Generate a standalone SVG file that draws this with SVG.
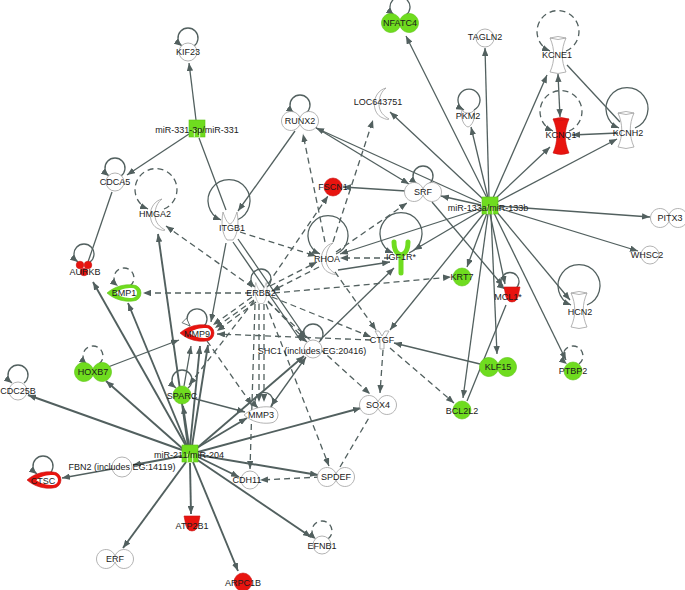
<svg xmlns="http://www.w3.org/2000/svg" xmlns:xlink="http://www.w3.org/1999/xlink" width="685" height="590" viewBox="0 0 685 590">
<style>
text{font-family:"Liberation Sans",Arial,sans-serif;font-size:9px;fill:#1a1a1a;text-anchor:middle;dominant-baseline:central}
.e{stroke:#52605f;stroke-width:1.3;fill:none}
.t{stroke-width:1.9}
.d{stroke-dasharray:6 4}
.w{fill:#fff;stroke:#a0a0a0;stroke-width:0.8}
.g{fill:#6fdc1f;stroke:#5cc414;stroke-width:0.6}
.r{fill:#e8140f;stroke:#c81010;stroke-width:0.6}
.wi{fill:#fff;stroke:none}
</style>
<defs>
<marker id="a" viewBox="0 0 10 8" refX="10" refY="4" markerWidth="8" markerHeight="6.4" orient="auto-start-reverse" markerUnits="userSpaceOnUse"><path d="M0,0 L10,4 L0,8 z" fill="#52605f"/></marker>
<marker id="ao" viewBox="0 0 12 10" refX="11" refY="5" markerWidth="10" markerHeight="8" orient="auto" markerUnits="userSpaceOnUse"><path d="M1,1 L11,5 L1,9 z" fill="#fff" stroke="#52605f" stroke-width="1"/></marker>
<path id="tf" d="M0,-3 A9.5,9.5 0 1,1 0,3 A9.5,9.5 0 1,1 0,-3 Z"/>
<path id="hg" d="M-8,-17 C-3,-6 -3,6 -8,17 Q0,20 8,17 C3,6 3,-6 8,-17 Q0,-20 -8,-17 Z"/>
<path id="hgr" fill="none" d="M-8,-17 Q0,-14 8,-17"/>
<path id="leaf" d="M-18,0 C-10,-7 0,-9 8,-8 A8,8 0 0 1 8,8 C0,9 -10,7 -18,0 Z"/>
<path id="leafin" d="M-11,0 C-6,-4 0,-5 6,-5 A5,5 0 0 1 6,5 C0,5 -6,4 -11,0 Z"/>
<path id="cres" d="M4,-16 C-11,-12 -11,10 1,14 C3,15 6,16 7,15 C2,12 -3,8 -3,0 C-3,-8 0,-13 4,-16 Z"/>
<path id="rec" d="M-7,-14 C-9,-4 -8,8 -3,14 L3,14 C8,8 9,-4 7,-14 C5,-8 3,-3 0,-2 C-3,-3 -5,-8 -7,-14 Z"/>
<path id="gf" d="M-7,-9 L-2,0 L-2,9 L2,9 L2,0 L7,-9 L3,-9 L0,-4 L-3,-9 Z"/>
<path id="enz" d="M-6,-8 C-8,0 -4,8 0,9 C4,8 8,0 6,-8 C4,-4 -4,-4 -6,-8 Z"/>
<path id="cup" d="M-8,-7 L8,-7 L7,-2 Q6,8 0,8 Q-6,8 -7,-2 Z"/>
<g id="mir"><rect x="-8" y="-9" width="16" height="17"/><path d="M-2.7,0 V8 M2.7,0 V8" stroke="#fff" stroke-width="0.8" fill="none"/></g>
</defs>
<rect width="685" height="590" fill="#fff"/>

<g id="connectors">
<!-- self loops -->
<path class="e" marker-end="url(#a)" d="M194,46 A10,10 0 1 0 182,46"/>
<path class="e" marker-end="url(#a)" d="M121,176 A10,10 0 1 0 109,176"/>
<path class="e" marker-end="url(#a)" d="M306,113 A10,10 0 1 0 294,113"/>
<path class="e" marker-end="url(#a)" d="M429,184 A10,10 0 1 0 417,184"/>
<path class="e" marker-end="url(#a)" d="M406,15 A10,10 0 1 0 394,15"/>
<path class="e" marker-end="url(#a)" d="M474,110 A11,11 0 1 0 464,110"/>
<path class="e" marker-end="url(#a)" d="M515,289 A9,9 0 1 0 505,289"/>
<path class="e" marker-end="url(#a)" d="M90,262 A10,10 0 1 0 78,262"/>
<path class="e d" marker-end="url(#a)" d="M130,286 A10,10 0 1 0 118,286"/>
<path class="e" marker-end="url(#ao)" d="M204,326 A10,10 0 1 0 190,326"/>
<path class="e" marker-end="url(#a)" d="M267,287 A10,10 0 1 0 255,287"/>
<path class="e" marker-end="url(#a)" d="M319,342 A10,10 0 1 0 307,342"/>
<path class="e" marker-end="url(#a)" d="M270,408 A9,9 0 1 0 258,408"/>
<path class="e" marker-end="url(#a)" d="M188,388 A10,10 0 1 0 176,388"/>
<path class="e d" marker-end="url(#a)" d="M99,364 A10,10 0 1 0 87,364"/>
<path class="e" marker-end="url(#a)" d="M24,383 A10,10 0 1 0 12,383"/>
<path class="e" marker-end="url(#a)" d="M49,474 A10,10 0 1 0 37,474"/>
<path class="e d" marker-end="url(#a)" d="M328,539 A10,10 0 1 0 316,539"/>
<path class="e d" marker-end="url(#a)" d="M579,364 A10,10 0 1 0 567,364"/>
<path class="e d" marker-end="url(#a)" d="M164,209 A21,21 0 1 0 148,209"/>
<path class="e" marker-end="url(#a)" d="M237,220 A21,21 0 1 0 221,220"/>
<path class="e" marker-end="url(#a)" d="M336,254 A20,20 0 1 0 320,254"/>
<path class="e" marker-end="url(#a)" d="M409,253 A21,21 0 1 0 393,253"/>
<path class="e d" marker-end="url(#a)" d="M566,51 A21,21 0 1 0 550,51"/>
<path class="e d" marker-end="url(#a)" d="M569,131 A21,21 0 1 0 553,131"/>
<path class="e" marker-end="url(#a)" d="M635,128 A21,21 0 1 0 619,128"/>
<path class="e" marker-end="url(#a)" d="M587,305 A21,21 0 1 0 571,305"/>

<!-- dashed -->
<path class="e d" marker-end="url(#a)" d="M251,293 L143,293"/>
<path class="e d" marker-end="url(#a)" d="M252,287 L166,226"/>
<path class="e d" marker-end="url(#a)" d="M252,297 L213,325"/>
<path class="e d" marker-end="url(#a)" d="M254,300 L215,328"/>
<path class="e d" marker-end="url(#a)" d="M256,302 L217,331"/>
<path class="e d" marker-end="url(#a)" d="M270,286 L317,262"/>
<path class="e d" marker-end="url(#a)" d="M319,267 L272,291"/>
<path class="e d" marker-end="url(#a)" d="M268,284 L328,196"/>
<path class="e d" marker-end="url(#a)" d="M268,301 L305,340"/>
<path class="e d" marker-end="url(#a)" d="M272,297 L371,337"/>
<path class="e d" marker-end="url(#a)" d="M274,293 L451,277"/>
<path class="e d" marker-end="url(#a)" d="M259,304 L259,402"/>
<path class="e d" marker-end="url(#a)" d="M264,304 L264,402"/>
<path class="e d" marker-end="url(#a)" d="M255,304 L250,469"/>
<path class="e d" marker-end="url(#a)" d="M266,304 L329,466"/>
<path class="e d" marker-end="url(#a)" d="M254,301 L189,385"/>
<path class="e d" marker-end="url(#a)" d="M268,302 L370,394"/>
<path class="e d" marker-end="url(#a)" d="M240,232 L316,256"/>
<path class="e d" marker-end="url(#a)" d="M207,341 L252,405"/>
<path class="e d" marker-end="url(#a)" d="M371,340 L217,334"/>
<path class="e d" marker-end="url(#a)" d="M335,272 L376,330"/>
<path class="e d" marker-end="url(#a)" d="M383,350 L380,393"/>
<path class="e d" d="M340,467 L370,416"/>
<path class="e d" marker-end="url(#a)" d="M390,348 L454,403"/>
<path class="e d" marker-end="url(#a)" d="M320,477 L260,480"/>
<path class="e d" marker-end="url(#a)" d="M336,252 L407,203"/>
<path class="e d" marker-end="url(#a)" d="M325,242 L303,134"/>
<path class="e d" marker-end="url(#a)" d="M333,242 L373,120"/>
<path class="e d" marker-end="url(#a)" d="M390,258 L340,258"/>

<!-- solid -->
<path class="e" marker-end="url(#a)" d="M338,270 L390,262"/>
<path class="e" marker-end="url(#a)" d="M320,340 L394,268"/>
<path class="e" marker-end="url(#a)" d="M238,239 L306,338"/>
<path class="e" d="M233,242 L301,341"/>
<path class="e" marker-end="url(#a)" d="M226,243 L211,322"/>
<path class="e" marker-end="url(#a)" d="M108,367 L179,340"/>
<path class="e" marker-end="url(#a)" d="M184,386 L191,346"/>
<path class="e" marker-end="url(#a)" d="M192,398 L245,412"/>
<path class="e" marker-start="url(#a)" marker-end="url(#a)" d="M306,357 L271,406"/>
<path class="e" marker-end="url(#a)" d="M480,364 L394,343"/>
<path class="e" d="M506,305 L467,401"/>
<path class="e" marker-end="url(#a)" d="M406,191 L343,187"/>
<path class="e" marker-end="url(#a)" d="M315,127 L409,184"/>
<path class="e" marker-end="url(#a)" d="M295,131 L238,211"/>
<path class="e" marker-end="url(#a)" d="M432,202 L503,286"/>
<path class="e" marker-start="url(#a)" marker-end="url(#a)" d="M558,74 L560,117"/>
<path class="e" marker-end="url(#a)" d="M618,133 L572,135"/>
<path class="e" d="M567,65 L620,122"/>
<path class="e" marker-end="url(#a)" d="M196,120 L189,63"/>
<path class="e" marker-end="url(#a)" d="M189,134 L127,175"/>
<path class="e" d="M199,138 L226,210"/>
<path class="e" d="M112,192 L88,262"/>
<path class="e" marker-end="url(#a)" d="M112,469 L62,478"/>

<!-- miR-133a/miR-133b -->
<path class="e" marker-end="url(#a)" d="M487,198 L406,36"/>
<path class="e" marker-end="url(#a)" d="M489,198 L485,48"/>
<path class="e" marker-end="url(#a)" d="M488,198 L471,127"/>
<path class="e" marker-end="url(#a)" d="M484,200 L390,112"/>
<path class="e" marker-end="url(#a)" d="M493,198 L547,75"/>
<path class="e" marker-end="url(#a)" d="M495,199 L550,147"/>
<path class="e" marker-end="url(#a)" d="M497,202 L617,139"/>
<path class="e" marker-end="url(#a)" d="M498,206 L650,217"/>
<path class="e" marker-end="url(#a)" d="M498,208 L638,251"/>
<path class="e" marker-end="url(#a)" d="M496,211 L570,300"/>
<path class="e" marker-end="url(#a)" d="M494,213 L566,360"/>
<path class="e" marker-end="url(#a)" d="M491,214 L497,354"/>
<path class="e" marker-end="url(#a)" d="M490,214 L505,284"/>
<path class="e" marker-end="url(#a)" d="M487,213 L467,267"/>
<path class="e" marker-end="url(#a)" d="M488,214 L463,398"/>
<path class="e" marker-end="url(#a)" d="M485,212 L390,330"/>
<path class="e" marker-end="url(#a)" d="M482,210 L414,250"/>
<path class="e" marker-end="url(#a)" d="M481,205 L441,196"/>
<path class="e" marker-end="url(#a)" d="M481,203 L316,128"/>
<path class="e" marker-end="url(#a)" d="M482,208 L340,254"/>

<!-- miR-211/miR-204 -->
<path class="e t" marker-end="url(#a)" d="M182,450 L28,395"/>
<path class="e t" marker-end="url(#a)" d="M183,449 L106,381"/>
<path class="e t" marker-end="url(#a)" d="M186,446 L93,282"/>
<path class="e t" marker-end="url(#a)" d="M187,446 L128,303"/>
<path class="e t" marker-end="url(#a)" d="M188,446 L158,234"/>
<path class="e t" marker-end="url(#a)" d="M190,446 L200,346"/>
<path class="e t" marker-end="url(#a)" d="M192,446 L208,345"/>
<path class="e t" marker-end="url(#a)" d="M189,446 L183,406"/>
<path class="e t" marker-end="url(#a)" d="M195,449 L247,418"/>
<path class="e t" marker-end="url(#a)" d="M197,448 L304,356"/>
<path class="e t" marker-end="url(#a)" d="M198,452 L361,408"/>
<path class="e t" marker-end="url(#a)" d="M198,455 L318,475"/>
<path class="e t" marker-end="url(#a)" d="M198,457 L239,477"/>
<path class="e t" marker-end="url(#a)" d="M196,459 L311,537"/>
<path class="e t" marker-end="url(#a)" d="M193,462 L238,571"/>
<path class="e t" marker-end="url(#a)" d="M190,463 L191,514"/>
<path class="e t" marker-end="url(#a)" d="M186,462 L123,548"/>
<path class="e t" marker-end="url(#a)" d="M182,456 L133,465"/>
</g>

<g id="n-KIF23"><circle class="w" cx="188" cy="52" r="9"/><text x="188" y="52">KIF23</text></g>
<g id="n-miR331"><use href="#mir" class="g" x="197" y="129"/><text x="197" y="130">miR-331-3p/miR-331</text></g>
<g id="n-CDCA5"><circle class="w" cx="115" cy="182" r="9"/><text x="115" y="182">CDCA5</text></g>
<g id="n-HMGA2"><use href="#cres" class="w" x="158" y="215"/><text x="155" y="214">HMGA2</text></g>
<g id="n-ITGB1"><use href="#rec" class="w" x="230" y="226"/><text x="232" y="228">ITGB1</text></g>
<g id="n-AURKB"><g class="r"><circle cx="80" cy="265" r="3.8"/><circle cx="88" cy="265" r="3.8"/><circle cx="84" cy="272" r="3.8"/></g><text x="85" y="272">AURKB</text></g>
<g id="n-BMP1"><use href="#leaf" class="g" x="125" y="293"/><use href="#leafin" class="wi" x="126" y="293"/><text x="124" y="293">BMP1</text></g>
<g id="n-MMP9"><use href="#leaf" class="r" x="198" y="333"/><use href="#leafin" class="wi" x="200" y="333"/><text x="197" y="334">MMP9</text></g>
<g id="n-ERBB2"><use href="#rec" class="w" x="261" y="293" transform="translate(261 293) scale(0.75) translate(-261 -293)"/><text x="261" y="293">ERBB2</text></g>
<g id="n-RUNX2"><use href="#tf" class="w" x="300" y="121"/><text x="300" y="121">RUNX2</text></g>
<g id="n-LOC643751"><use href="#cres" class="w" x="382" y="104"/><text x="378" y="102">LOC643751</text></g>
<g id="n-FSCN1"><circle class="r" cx="333" cy="187" r="9"/><text x="333" y="187">FSCN1</text></g>
<g id="n-SRF"><use href="#tf" class="w" x="423" y="192"/><text x="423" y="192">SRF</text></g>
<g id="n-RHOA"><use href="#cres" class="w" x="329" y="259"/><text x="327" y="259">RHOA</text></g>
<g id="n-IGF1R"><path d="M394,242 C394,252 398,254 401,255 C404,254 408,252 408,242 M401,255 L401,273" fill="none" stroke="#6fdc1f" stroke-width="5" stroke-linecap="round"/><text x="401" y="257">IGF1R*</text></g>
<g id="n-NFATC4"><use href="#tf" class="g" x="400" y="23"/><text x="400" y="23">NFATC4</text></g>
<g id="n-TAGLN2"><circle class="w" cx="485" cy="38" r="9"/><text x="485" y="37">TAGLN2</text></g>
<g id="n-PKM2"><use href="#enz" class="w" x="468" y="118"/><text x="468" y="116">PKM2</text></g>
<g id="n-KCNE1"><use href="#hg" class="w" x="558" y="55"/><use href="#hgr" class="w" x="558" y="55"/><text x="557" y="55">KCNE1</text></g>
<g id="n-KCNQ1"><use href="#hg" class="r" x="561" y="136"/><use href="#hgr" class="r" x="561" y="136"/><text x="561" y="135">KCNQ1</text></g>
<g id="n-KCNH2"><use href="#hg" class="w" x="626" y="130"/><use href="#hgr" class="w" x="626" y="130"/><text x="628" y="133">KCNH2</text></g>
<g id="n-miR133"><use href="#mir" class="g" x="490" y="206"/><text x="488" y="208">miR-133a/miR-133b</text></g>
<g id="n-PITX3"><use href="#tf" class="w" x="669" y="218"/><text x="670" y="218">PITX3</text></g>
<g id="n-WHSC2"><circle class="w" cx="650" cy="255" r="9"/><text x="647" y="255">WHSC2</text></g>
<g id="n-KRT7"><circle class="g" cx="462" cy="277" r="9"/><text x="462" y="277">KRT7</text></g>
<g id="n-MCL1"><use href="#cup" class="r" x="512" y="294"/><text x="508" y="297">MCL1*</text></g>
<g id="n-HCN2"><use href="#hg" class="w" x="579" y="310"/><use href="#hgr" class="w" x="579" y="310"/><text x="580" y="312">HCN2</text></g>
<g id="n-KLF15"><use href="#tf" class="g" x="498" y="367"/><text x="498" y="367">KLF15</text></g>
<g id="n-PTBP2"><circle class="g" cx="573" cy="371" r="9"/><text x="573" y="371">PTBP2</text></g>
<g id="n-BCL2L2"><circle class="g" cx="462" cy="410" r="9"/><text x="462" y="411">BCL2L2</text></g>
<g id="n-CTGF"><use href="#gf" class="w" x="382" y="340"/><text x="382" y="340">CTGF</text></g>
<g id="n-SHC1"><circle class="w" cx="313" cy="349" r="9"/><text x="312" y="351">SHC1 (includes EG:20416)</text></g>
<g id="n-MMP3"><use href="#leaf" class="w" x="262" y="415"/><text x="261" y="415">MMP3</text></g>
<g id="n-SOX4"><use href="#tf" class="w" x="378" y="405"/><text x="378" y="405">SOX4</text></g>
<g id="n-SPARC"><circle class="g" cx="182" cy="395" r="9"/><text x="182" y="396">SPARC</text></g>
<g id="n-HOXB7"><use href="#tf" class="g" x="93" y="372"/><text x="93" y="372">HOXB7</text></g>
<g id="n-CDC25B"><circle class="w" cx="18" cy="391" r="9"/><text x="18" y="391">CDC25B</text></g>
<g id="n-miR211"><use href="#mir" class="g" x="190" y="454"/><text x="189" y="455">miR-211/miR-204</text></g>
<g id="n-FBN2"><circle class="w" cx="122" cy="467" r="10"/><text x="122" y="467">FBN2 (includes EG:14119)</text></g>
<g id="n-CTSC"><use href="#leaf" class="r" x="45" y="480"/><use href="#leafin" class="wi" x="47" y="480"/><text x="43" y="481">CTSC</text></g>
<g id="n-CDH11"><circle class="w" cx="250" cy="480" r="9"/><text x="247" y="480">CDH11</text></g>
<g id="n-SPDEF"><use href="#tf" class="w" x="336" y="477"/><text x="336" y="477">SPDEF</text></g>
<g id="n-ATP2B1"><use href="#cup" class="r" x="192" y="523"/><text x="192" y="526">ATP2B1</text></g>
<g id="n-ERF"><use href="#tf" class="w" x="115" y="559"/><text x="115" y="559">ERF</text></g>
<g id="n-EFNB1"><circle class="w" cx="322" cy="545" r="9"/><text x="322" y="546">EFNB1</text></g>
<g id="n-ARPC1B"><circle class="r" cx="243" cy="582" r="9"/><text x="243" y="583">ARPC1B</text></g>
</svg>
